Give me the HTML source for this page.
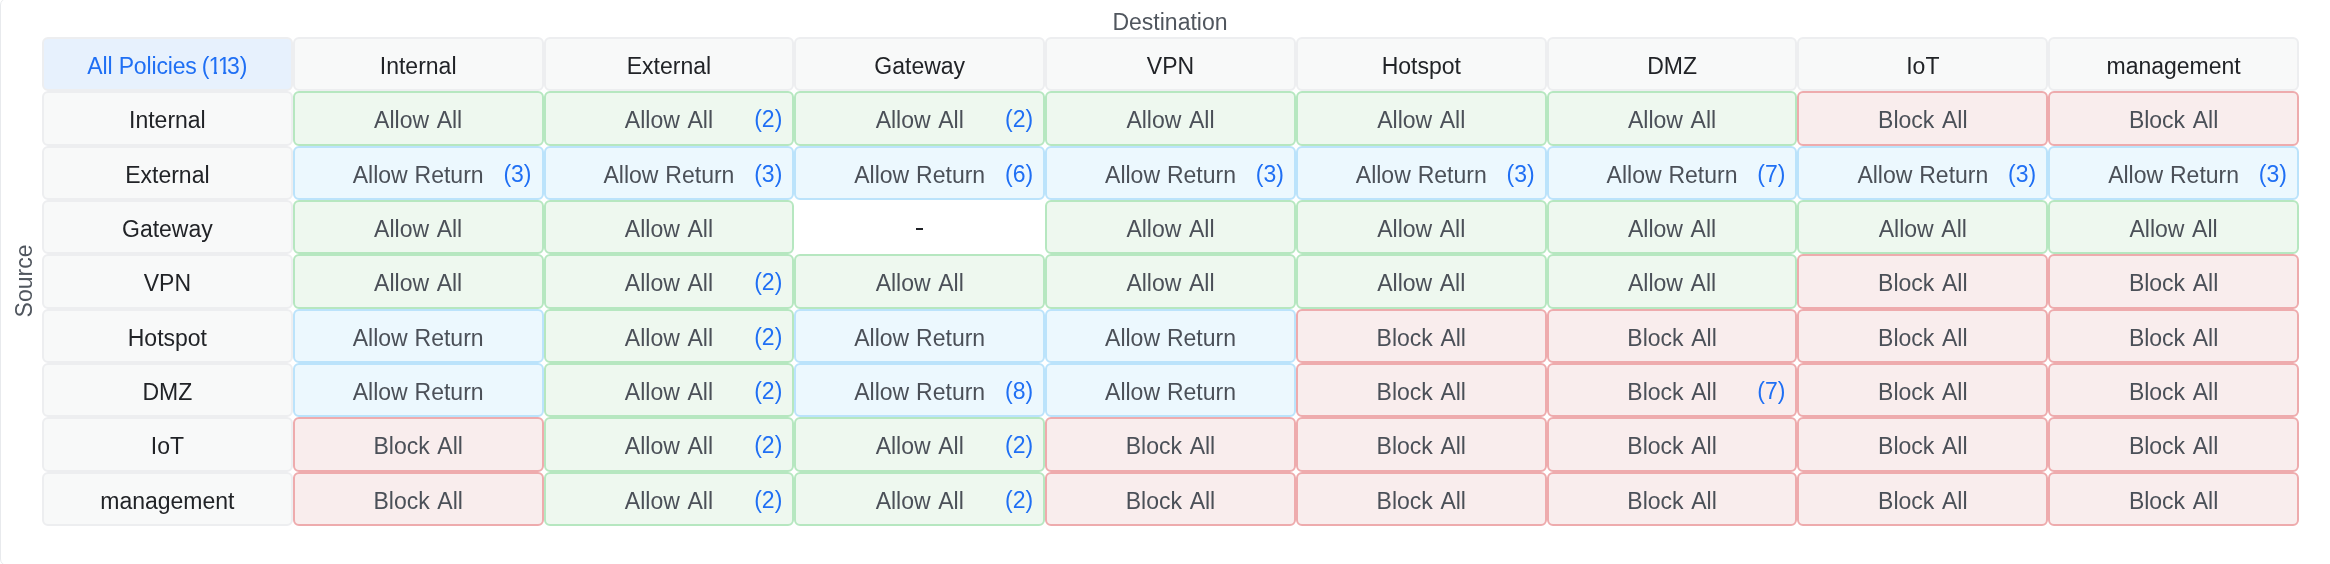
<!DOCTYPE html>
<html><head><meta charset="utf-8"><title>Zone Matrix</title>
<style>
html,body{margin:0;padding:0;background:#fff;}
body{width:2330px;height:564px;overflow:hidden;position:relative;font-family:"Liberation Sans",sans-serif;-webkit-font-smoothing:antialiased;}
.box{position:absolute;left:0;top:-2px;width:2400px;height:566px;border:1px solid #e8eaed;border-radius:7px;}
.dest{will-change:transform;position:absolute;left:1070px;width:200px;top:9px;text-align:center;font-size:23px;line-height:26px;color:#50565e;}
.src{will-change:transform;position:absolute;left:24px;top:281px;width:120px;margin-left:-60px;margin-top:-13px;text-align:center;font-size:23px;line-height:26px;color:#50565e;transform:rotate(-90deg);}
.grid{will-change:transform;position:absolute;left:42px;top:37px;width:2257px;height:489px;display:grid;grid-template-columns:repeat(9,1fr);grid-template-rows:repeat(9,1fr);}
.cell{position:relative;box-sizing:border-box;padding-top:4.5px;border:2px solid #ebedef;border-radius:6px;display:flex;align-items:center;justify-content:center;font-size:23px;color:#4b5058;white-space:nowrap;}
.cell.hd{background:#f8f9f9;border-color:#edeef0;color:#212327;}
.cell.all{background:#e7f1fd;border-color:#edeef0;color:#1f6ff4;}
.cell.g,.cell.r{word-spacing:2.5px;}
.cell.b{word-spacing:0.5px;}
.cell.g{background:#eef8ef;border-color:#b6e7c0;}
.cell.b{background:#ecf8fe;border-color:#bbe3fb;}
.cell.r{background:#f9eded;border-color:#eeabad;}
.cell.none{border-color:transparent;background:#fff;}
.dash{display:block;width:7px;height:2px;background:#1f2126;}
.n{position:absolute;right:10px;top:calc(50% + 1px);transform:translateY(-50%);color:#1f6ff4;}
.all .p{letter-spacing:-0.15px;}
.all .c{margin-left:5px;}
.one{font-style:normal;display:inline-block;line-height:26px;clip-path:polygon(0 0,100% 0,100% 19px,0.375em 19px,0.375em 100%,0.235em 100%,0.235em 19px,0 19px);margin-right:-3.5px;}
.one:first-child{margin-left:-1px;}

</style></head><body>
<div class="box"></div>
<div class="dest">Destination</div>
<div class="src">Source</div>
<div class="grid">
<div class="cell all"><span class="p">All Policies</span> <span class="c">(<i class="one">1</i><i class="one">1</i>3)</span></div>
<div class="cell hd">Internal</div>
<div class="cell hd">External</div>
<div class="cell hd">Gateway</div>
<div class="cell hd">VPN</div>
<div class="cell hd">Hotspot</div>
<div class="cell hd">DMZ</div>
<div class="cell hd">IoT</div>
<div class="cell hd">management</div>
<div class="cell hd">Internal</div>
<div class="cell g">Allow All</div>
<div class="cell g">Allow All<span class="n">(2)</span></div>
<div class="cell g">Allow All<span class="n">(2)</span></div>
<div class="cell g">Allow All</div>
<div class="cell g">Allow All</div>
<div class="cell g">Allow All</div>
<div class="cell r">Block All</div>
<div class="cell r">Block All</div>
<div class="cell hd">External</div>
<div class="cell b">Allow Return<span class="n">(3)</span></div>
<div class="cell b">Allow Return<span class="n">(3)</span></div>
<div class="cell b">Allow Return<span class="n">(6)</span></div>
<div class="cell b">Allow Return<span class="n">(3)</span></div>
<div class="cell b">Allow Return<span class="n">(3)</span></div>
<div class="cell b">Allow Return<span class="n">(7)</span></div>
<div class="cell b">Allow Return<span class="n">(3)</span></div>
<div class="cell b">Allow Return<span class="n">(3)</span></div>
<div class="cell hd">Gateway</div>
<div class="cell g">Allow All</div>
<div class="cell g">Allow All</div>
<div class="cell none"><span class="dash"></span></div>
<div class="cell g">Allow All</div>
<div class="cell g">Allow All</div>
<div class="cell g">Allow All</div>
<div class="cell g">Allow All</div>
<div class="cell g">Allow All</div>
<div class="cell hd">VPN</div>
<div class="cell g">Allow All</div>
<div class="cell g">Allow All<span class="n">(2)</span></div>
<div class="cell g">Allow All</div>
<div class="cell g">Allow All</div>
<div class="cell g">Allow All</div>
<div class="cell g">Allow All</div>
<div class="cell r">Block All</div>
<div class="cell r">Block All</div>
<div class="cell hd">Hotspot</div>
<div class="cell b">Allow Return</div>
<div class="cell g">Allow All<span class="n">(2)</span></div>
<div class="cell b">Allow Return</div>
<div class="cell b">Allow Return</div>
<div class="cell r">Block All</div>
<div class="cell r">Block All</div>
<div class="cell r">Block All</div>
<div class="cell r">Block All</div>
<div class="cell hd">DMZ</div>
<div class="cell b">Allow Return</div>
<div class="cell g">Allow All<span class="n">(2)</span></div>
<div class="cell b">Allow Return<span class="n">(8)</span></div>
<div class="cell b">Allow Return</div>
<div class="cell r">Block All</div>
<div class="cell r">Block All<span class="n">(7)</span></div>
<div class="cell r">Block All</div>
<div class="cell r">Block All</div>
<div class="cell hd">IoT</div>
<div class="cell r">Block All</div>
<div class="cell g">Allow All<span class="n">(2)</span></div>
<div class="cell g">Allow All<span class="n">(2)</span></div>
<div class="cell r">Block All</div>
<div class="cell r">Block All</div>
<div class="cell r">Block All</div>
<div class="cell r">Block All</div>
<div class="cell r">Block All</div>
<div class="cell hd">management</div>
<div class="cell r">Block All</div>
<div class="cell g">Allow All<span class="n">(2)</span></div>
<div class="cell g">Allow All<span class="n">(2)</span></div>
<div class="cell r">Block All</div>
<div class="cell r">Block All</div>
<div class="cell r">Block All</div>
<div class="cell r">Block All</div>
<div class="cell r">Block All</div>
</div>
</body></html>
